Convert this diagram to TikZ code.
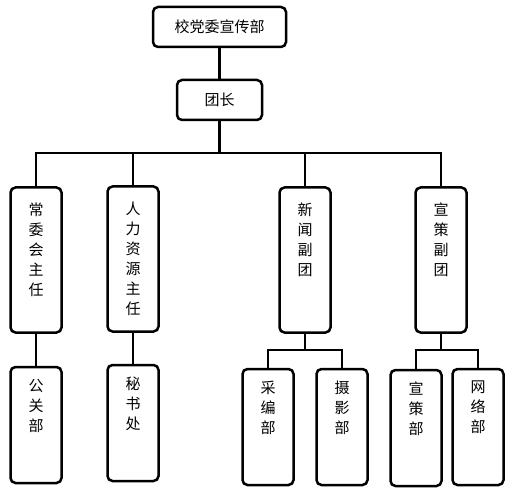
\documentclass[tikz,border=0pt]{standalone}
\usepackage{fontspec}
\newfontfamily\cjk{Noto Sans CJK SC}
\usepackage{tikz}
\usetikzlibrary{positioning}
\tikzstyle{orgBox}=[draw, line width=2.5pt, rounded corners=5pt, inner sep=0pt, font=\cjk\fontsize{15}{20}\selectfont]
\tikzstyle{deptBox}=[orgBox, minimum width=51pt, minimum height=145pt]
\tikzstyle{unitBox}=[orgBox, minimum width=51pt, minimum height=116pt]
\tikzstyle{colText}=[anchor=north, align=center, inner sep=0pt, font=\cjk\fontsize{15}{20}\selectfont, yshift=-16pt]
\tikzstyle{orgLine}=[line width=2.5pt]

\begin{document}
\begin{tikzpicture}[x=1pt, y=-1pt]

    \useasboundingbox (0,0) rectangle (512,492);

    % top

    \node[orgBox, minimum width=133pt, minimum height=40pt] (top) at (219.5,27) {校党委宣传部};
    \node[orgBox, minimum width=85pt, minimum height=40pt] (team) at (219.5,100) {团长};

    % second level

    \node[deptBox] (c1) at (36,260) {};
    \node[deptBox] (c2) at (133,259) {};
    \node[deptBox] (c3) at (305,260) {};
    \node[deptBox] (c4) at (441,260) {};

    \node[colText] (c1t) at (c1.north) {常\\委\\会\\主\\任};
    \node[colText] (c2t) at (c2.north) {人\\力\\资\\源\\主\\任};
    \node[colText] (c3t) at (c3.north) {新\\闻\\副\\团};
    \node[colText] (c4t) at (c4.north) {宣\\策\\副\\团};

    % third level

    \node[unitBox] (u1) at (36,425) {};
    \node[unitBox] (u2) at (133,423) {};
    \node[unitBox] (u3) at (268,427) {};
    \node[unitBox] (u4) at (342,427) {};
    \node[unitBox] (u5) at (416,428) {};
    \node[unitBox] (u6) at (478,427) {};

    \node[colText, yshift=3pt] (u1t) at (u1.north) {公\\关\\部};
    \node[colText, yshift=3pt] (u2t) at (u2.north) {秘\\书\\处};
    \node[colText, yshift=3pt] (u3t) at (u3.north) {采\\编\\部};
    \node[colText, yshift=3pt] (u4t) at (u4.north) {摄\\影\\部};
    \node[colText, yshift=3pt] (u5t) at (u5.north) {宣\\策\\部};
    \node[colText, yshift=3pt] (u6t) at (u6.north) {网\\络\\部};

    % connectors

    \coordinate (bus) at (219.5,153);
    \coordinate (sub3) at (305,350);
    \coordinate (sub4) at (441,350);

    \draw[orgLine] (top) -- (team);
    \draw[orgLine] (team) -- (bus);
    \draw[orgLine] (c1.north) |- (bus) -| (c4.north);
    \draw[orgLine] (bus) -| (c2.north);
    \draw[orgLine] (bus) -| (c3.north);

    \draw[orgLine] (c1) -- (u1);
    \draw[orgLine] (c2) -- (u2);
    \draw[orgLine] (c3) -- (sub3);
    \draw[orgLine] (u3.north) |- (sub3) -| (u4.north);
    \draw[orgLine] (c4) -- (sub4);
    \draw[orgLine] (u5.north) |- (sub4) -| (u6.north);

\end{tikzpicture}
\end{document}
